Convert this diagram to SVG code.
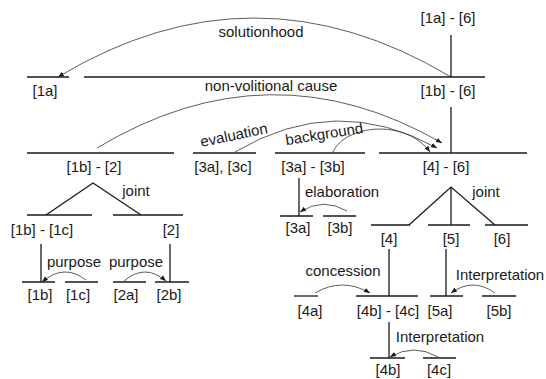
<svg xmlns="http://www.w3.org/2000/svg" width="546" height="379" viewBox="0 0 546 379">
  <style>
    text { font-family: "Liberation Sans", Arial, sans-serif; font-size: 15px; fill: #1a1a1a; text-anchor: middle; }
    .span { stroke: #1a1a1a; stroke-width: 1.3; fill: none; }
    .tree { stroke: #1a1a1a; stroke-width: 1.3; fill: none; }
    .rel { stroke: #333; stroke-width: 0.8; fill: none; marker-end: url(#arrow); }
  </style>
  <defs>
    <marker id="arrow" viewBox="0 0 10 10" refX="10" refY="5" markerWidth="6" markerHeight="6" markerUnits="userSpaceOnUse" orient="auto">
      <path d="M0,1 L10,5 L0,9 Z" fill="#1a1a1a"/>
    </marker>
  </defs>
  <rect width="546" height="379" fill="#fff"/>

  <!-- span nodes: horizontal bar + label -->
  <g id="n-1a-6"><text x="448" y="23">[1a] - [6]</text></g>
  <g id="n-1a"><line class="span" x1="27" y1="77" x2="69" y2="77"/><text x="45" y="96">[1a]</text></g>
  <g id="n-1b-6"><line class="span" x1="84" y1="77" x2="485" y2="77"/><text x="448" y="96">[1b] - [6]</text></g>

  <g id="n-1b-2"><line class="span" x1="27" y1="153" x2="174" y2="153"/><text x="94" y="172">[1b] - [2]</text></g>
  <g id="n-3a-3c"><line class="span" x1="193" y1="153" x2="256" y2="153"/><text x="223" y="172">[3a], [3c]</text></g>
  <g id="n-3a-3b"><line class="span" x1="275" y1="153" x2="365" y2="153"/><text x="313" y="172">[3a] - [3b]</text></g>
  <g id="n-4-6"><line class="span" x1="379" y1="153" x2="527" y2="153"/><text x="446" y="172">[4] - [6]</text></g>

  <g id="n-1b-1c"><line class="span" x1="27" y1="215" x2="92" y2="215"/><text x="42" y="235">[1b] - [1c]</text></g>
  <g id="n-2"><line class="span" x1="113" y1="215" x2="183" y2="215"/><text x="171" y="235">[2]</text></g>

  <g id="n-1b"><line class="span" x1="22" y1="282" x2="55" y2="282"/><text x="40" y="300">[1b]</text></g>
  <g id="n-1c"><line class="span" x1="65" y1="282" x2="98" y2="282"/><text x="78" y="300">[1c]</text></g>
  <g id="n-2a"><line class="span" x1="113" y1="282" x2="146" y2="282"/><text x="126" y="300">[2a]</text></g>
  <g id="n-2b"><line class="span" x1="155" y1="282" x2="189" y2="282"/><text x="169" y="300">[2b]</text></g>

  <g id="n-3a"><line class="span" x1="280" y1="216" x2="313" y2="216"/><text x="298" y="233">[3a]</text></g>
  <g id="n-3b"><line class="span" x1="323" y1="216" x2="356" y2="216"/><text x="340" y="233">[3b]</text></g>

  <g id="n-4"><line class="span" x1="371" y1="225" x2="410" y2="225"/><text x="389" y="244">[4]</text></g>
  <g id="n-5"><line class="span" x1="428" y1="225" x2="470" y2="225"/><text x="451" y="244">[5]</text></g>
  <g id="n-6"><line class="span" x1="485" y1="225" x2="528" y2="225"/><text x="502" y="244">[6]</text></g>

  <g id="n-4a"><line class="span" x1="294" y1="296" x2="318" y2="296"/><text x="310" y="316">[4a]</text></g>
  <g id="n-4b-4c"><line class="span" x1="356" y1="296" x2="418" y2="296"/><text x="388" y="316">[4b] - [4c]</text></g>
  <g id="n-5a"><line class="span" x1="430" y1="296" x2="463" y2="296"/><text x="440" y="316">[5a]</text></g>
  <g id="n-5b"><line class="span" x1="482" y1="296" x2="516" y2="296"/><text x="499" y="316">[5b]</text></g>

  <g id="n-4b"><line class="span" x1="370" y1="358" x2="405" y2="358"/><text x="388" y="375">[4b]</text></g>
  <g id="n-4c"><line class="span" x1="423" y1="358" x2="456" y2="358"/><text x="439" y="375">[4c]</text></g>

  <!-- connectors: nucleus lines, multinuclear fans and relation arcs -->
  <g id="connectors">
    <line class="tree" x1="451" y1="35" x2="451" y2="77"/>
    <line class="tree" x1="451" y1="107" x2="451" y2="153"/>
    <polyline class="tree" points="46,215 93,183 141,215"/>
    <line class="tree" x1="41" y1="244" x2="41" y2="282"/>
    <line class="tree" x1="170" y1="244" x2="170" y2="282"/>
    <line class="tree" x1="299" y1="178" x2="299" y2="216"/>
    <polyline class="tree" points="409,225 451,187 495,225"/>
    <line class="tree" x1="451" y1="187" x2="451" y2="225"/>
    <line class="tree" x1="389" y1="249" x2="389" y2="296"/>
    <line class="tree" x1="446" y1="249" x2="446" y2="296"/>
    <line class="tree" x1="389" y1="322" x2="389" y2="358"/>

    <path class="rel" d="M451,77 Q254,-41 58,77"/>
    <path class="rel" d="M97,148 Q270,44 442,143"/>
    <path class="rel" d="M235,152 Q336,92 437,148"/>
    <path class="rel" d="M333,152 C345,125 405,118 430,152"/>
    <path class="rel" d="M86,280 Q64,263 42,282"/>
    <path class="rel" d="M124,281 Q145,263 166,281"/>
    <path class="rel" d="M347,211 Q323,197 300,212"/>
    <path class="rel" d="M315,293 Q342,277 370,293"/>
    <path class="rel" d="M495,293 Q473,277 451,293"/>
    <path class="rel" d="M438,357 Q414,343 390,357"/>
  </g>

  <!-- relation labels -->
  <g id="labels">
    <text x="261" y="37">solutionhood</text>
    <text x="271" y="91">non-volitional cause</text>
    <text x="235" y="140" transform="rotate(-12 235 140)">evaluation</text>
    <text x="325" y="139" transform="rotate(-9 325 139)">background</text>
    <text x="136" y="196">joint</text>
    <text x="486" y="197">joint</text>
    <text x="342" y="197">elaboration</text>
    <text x="74" y="267">purpose</text>
    <text x="136" y="267">purpose</text>
    <text x="343" y="276">concession</text>
    <text x="500" y="280">Interpretation</text>
    <text x="440" y="342">Interpretation</text>
  </g>
</svg>
